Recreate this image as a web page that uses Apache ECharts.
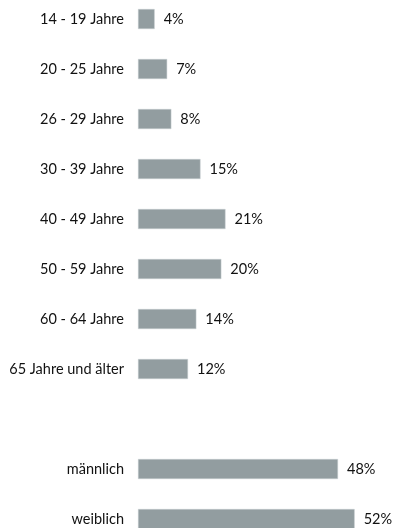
<!DOCTYPE html>
<html><head><meta charset="utf-8">
<script src="https://cdn.jsdelivr.net/npm/echarts@6/dist/echarts.min.js"></script>
<style>html,body{margin:0;padding:0;background:#fff}#c{width:394px;height:528px}</style>
</head><body><div id="c"></div>
<script>
const categories = ['14 - 19 Jahre','20 - 25 Jahre','26 - 29 Jahre','30 - 39 Jahre','40 - 49 Jahre','50 - 59 Jahre','60 - 64 Jahre','65 Jahre und älter','','männlich','weiblich'];
const values = [4,7,8,15,21,20,14,12,null,48,52];
const chart = echarts.init(document.getElementById('c'));
chart.setOption({
  animation:false,
  textStyle:{fontFamily:'Lato'},
  grid:{left:138,top:19,width:250,height:500,containLabel:false},
  xAxis:{type:'value',min:0,max:60,show:false},
  yAxis:{type:'category',data:categories,inverse:true,boundaryGap:false,
    axisLine:{show:false},axisTick:{show:false},splitLine:{show:false},
    axisLabel:{margin:14,color:'#111',fontSize:14.5,fontFamily:'Lato'}},
  series:[{type:'bar',data:values,barWidth:20,
    itemStyle:{color:'#929da0',borderColor:'#c9d0d2',borderWidth:0.5},
    label:{show:true,position:'right',distance:9,color:'#111',fontSize:14.5,fontFamily:'Lato',formatter:p=>p.value+'%'}}]
});
</script></body></html>
